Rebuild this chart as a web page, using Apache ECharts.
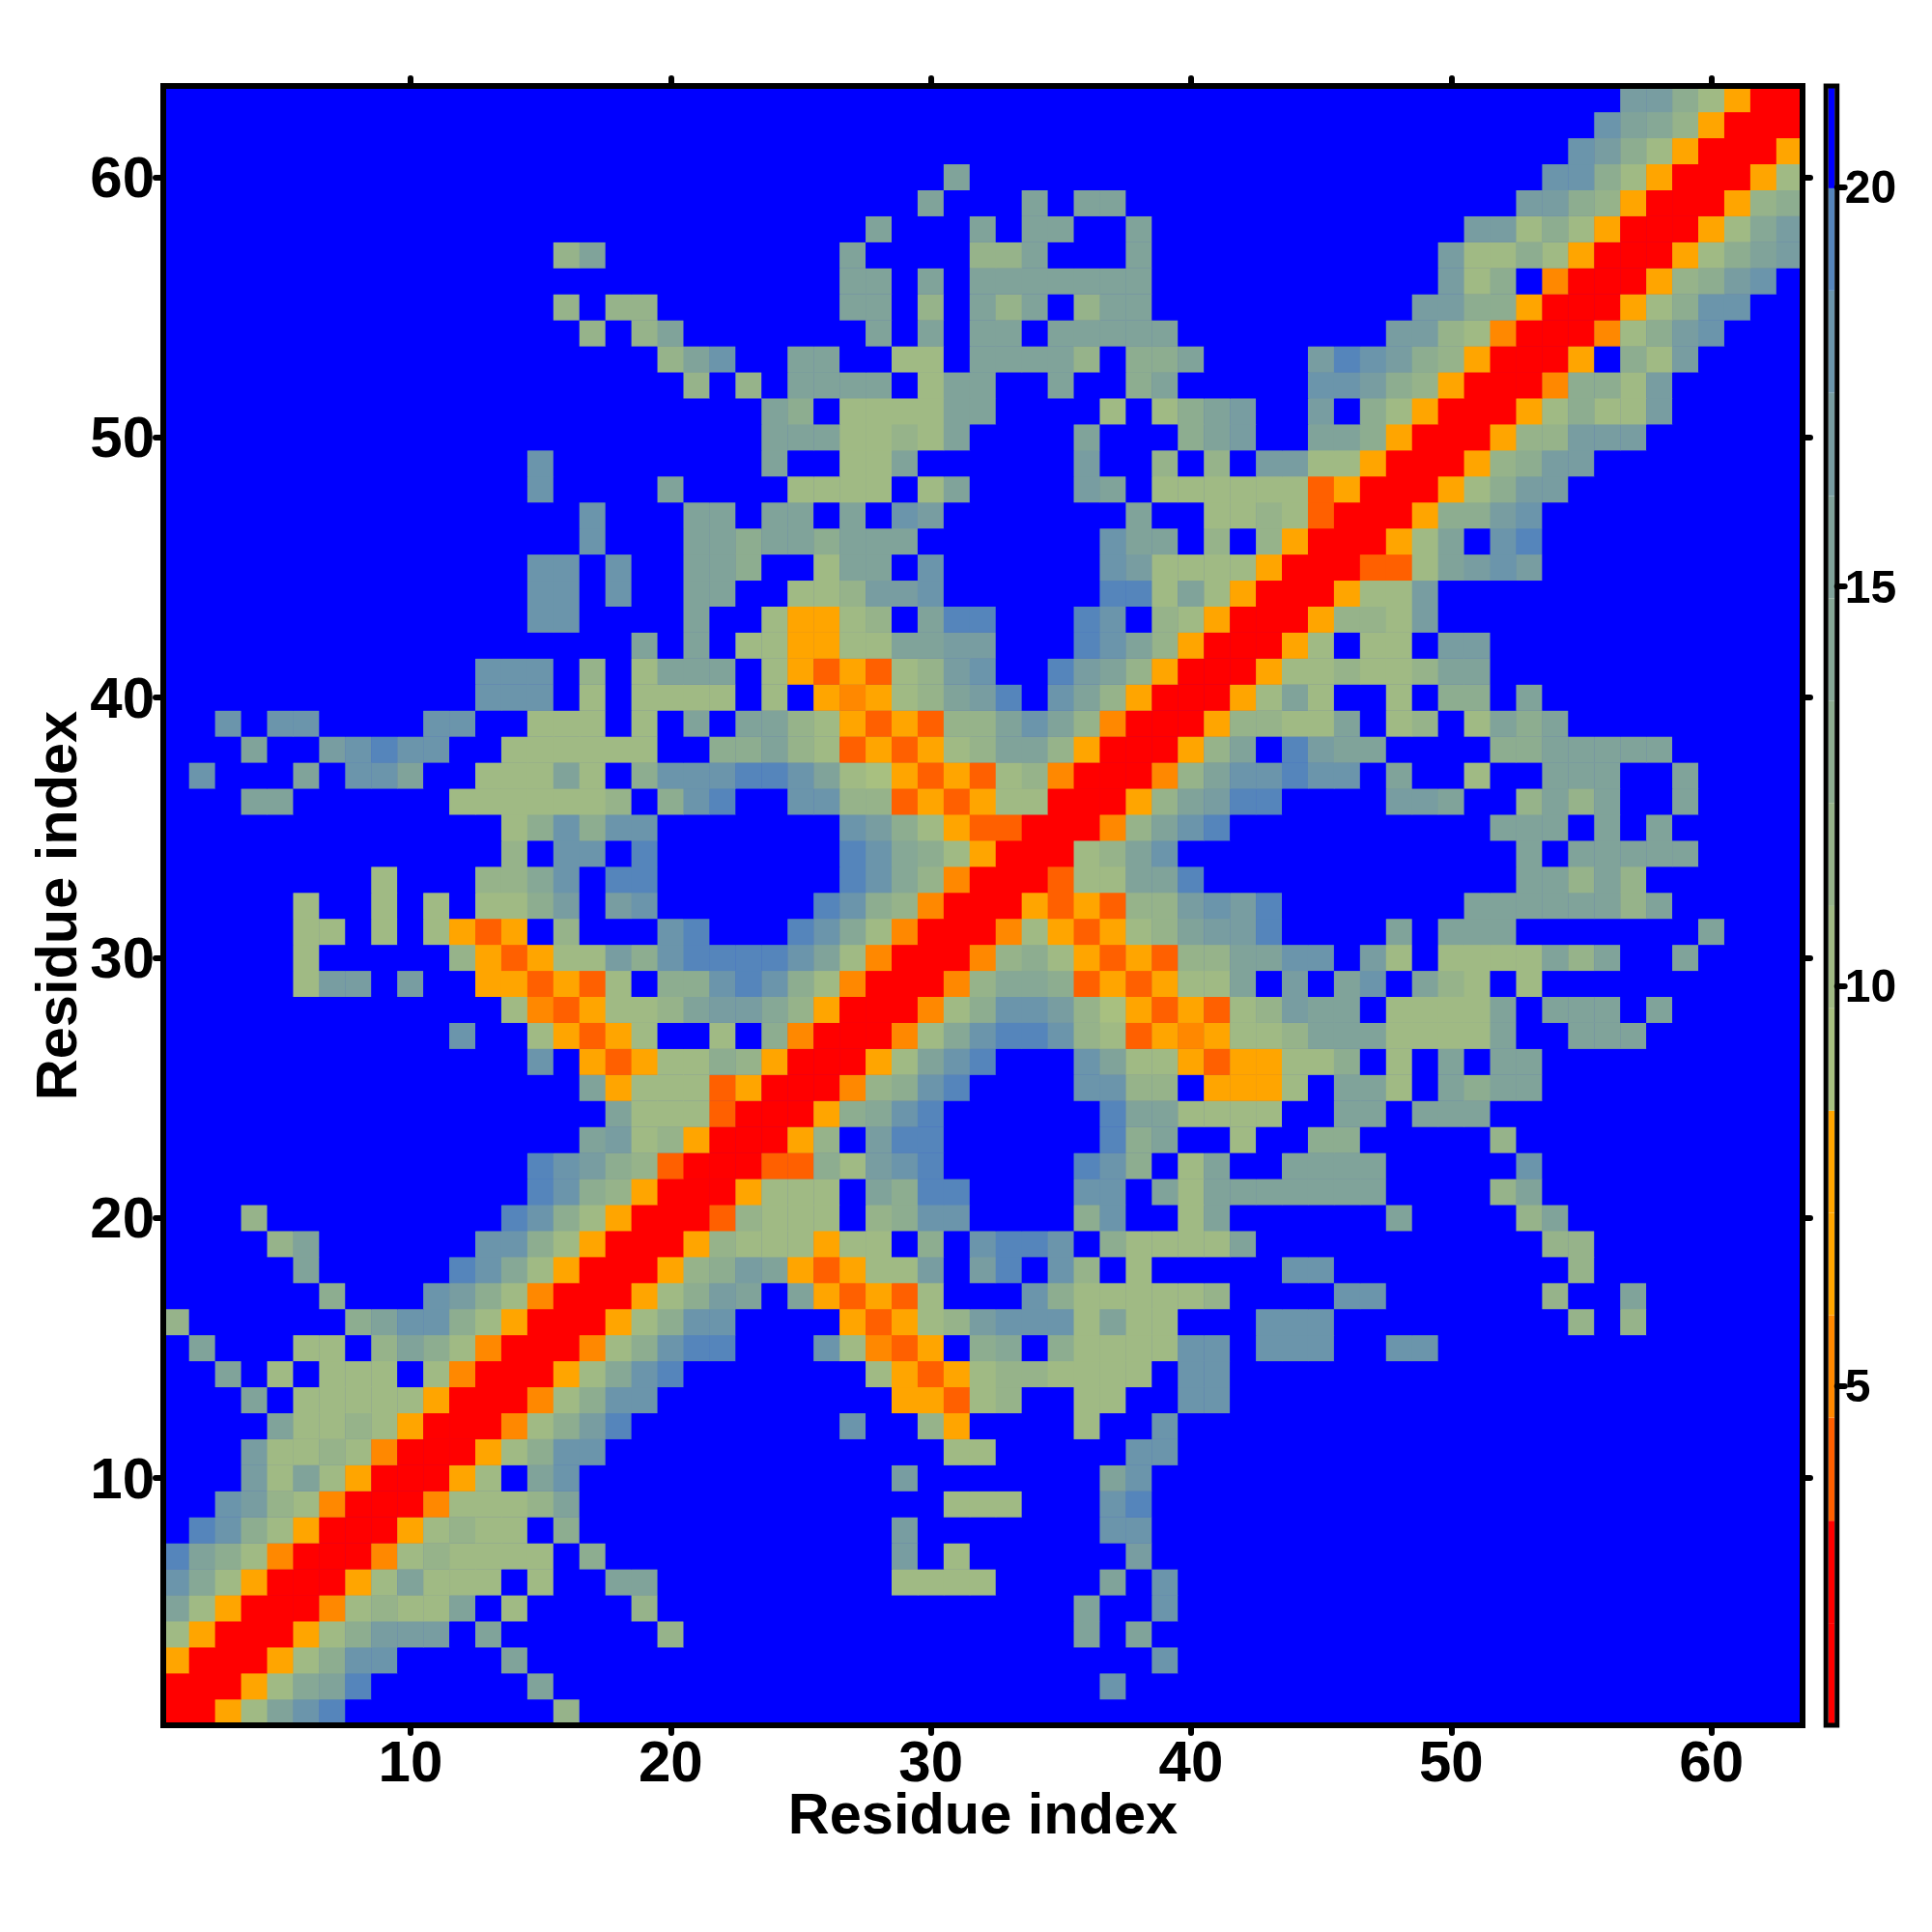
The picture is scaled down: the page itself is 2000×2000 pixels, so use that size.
<!DOCTYPE html>
<html><head><meta charset="utf-8">
<style>html,body{margin:0;padding:0;background:#fff}#c{width:2000px;height:2000px}</style>
<script src="https://cdn.jsdelivr.net/npm/echarts@6/dist/echarts.min.js"></script>
</head><body><div id="c"></div>
<script>
// Residue index categories
const residues = Array.from({length:63},(_,i)=>String(i+1));
const axisTitle = "Residue index";
const colorBarTicks = [5,10,15,20];
// Colour bar: level boundaries and level colours
const levelBreaks = [0.75,2.03,3.31,4.6,5.88,7.16,8.44,9.72,11,12.29,13.57,14.85,16.13,17.42,18.7,19.98,21.26];
const levelColors = ["#ff0000","#ff0000","#ff6000","#ff8800","#ffa500","#ffa500","#a8c080","#a0ba84","#96b38a","#8dad90","#86a896","#80a39a","#789da1","#6b95ab","#5585bb","#0000ff"];
// Distance value read for each colour code; anything not listed is the far (blue) level
const codeValues = {R:2.7,D:3.95,O:5.2,A:6.5,a:9.1,g:10.3,h:11.6,i:12.9,j:14.2,t:15.4,k:16.7,s:18,u:19.3};
const farValue = 20.6;
const diagonalValue = 1.4;
// Matrix is symmetric: for residue y (from 63 down to 2), cells with x<y as "<x or x-x><code>"
const rowsFromTop = [
"57k 58k 59i 60g 61A 62R",
"56s 57t 58j 59h 60A 61R",
"55s 56k 57i 58g 59A 60R",
"31t 54s 55s 56i 57g 58A 59R",
"30t 34t 36t 37t 53k 54k 55i 56h 57A 58R",
"28t 32t 34t 35t 38t 51k 52k 53g 54i 55g 56A 57R",
"16h 17t 27t 32h 33h 34t 38t 50k 51g 52g 53i 54g 55A 56R",
"27t 28t 30t 32-38t 50k 51g 52i 54O 55R",
"16h 18h 19h 27t 28t 30h 32t 33h 34t 36h 37t 38t 49k 50k 51i 52i 53A 54R",
"17h 19h 20t 28t 30t 32t 33t 35-39t 48k 49k 50h 51g 52O 53R",
"20h 21t 22s 25t 26t 29g 30g 32-35t 36h 38i 39i 40t 45k 46u 47s 48k 49i 50h 51A 52R",
"21h 23h 25-28t 30g 31t 32t 35t 38i 39t 45s 46s 47k 48i 49h 50A 51R",
"24t 25i 27-30g 31t 32t 37g 39g 40i 41t 42k 45k 47i 48g 49A 50R",
"24t 25t 26t 27g 28g 29h 30g 31t 36t 40i 41t 42k 45t 46t 47i 48A 49R",
"15s 24t 27g 28g 29t 36k 39h 41h 43k 44k 45g 46g 47A 48R",
"15s 20t 25-28g 30g 31t 36k 37t 39-44g 45D 46A 47R",
"17s 21t 22t 24t 25t 27t 29s 30k 38t 41g 42g 43h 44g 45D 46R",
"17s 21t 22t 23i 24t 25t 26i 27t 28t 29t 37s 38t 39t 41h 43h 44A 45R",
"15s 16s 18s 21t 22t 23i 26g 27t 28t 30s 37s 38k 39-42g 43A 44R",
"15s 16s 18s 21t 22t 25g 26g 27h 28k 29k 30s 37u 38u 39g 40t 41g 42A 43R",
"15s 16s 21t 24g 25A 26A 27g 28h 30t 31u 32u 36u 37s 39h 40g 41A 42R",
"19t 21t 23g 24g 25A 26A 27g 28g 29t 30t 31k 32k 36u 37s 38t 39h 40A 41R",
"13s 14s 15s 17h 19g 20t 21t 22t 24g 25A 26D 27A 28D 29g 30h 31k 32s 35u 36k 37t 38h 39A 40R",
"13s 14s 15s 17g 19g 20-22g 24g 26A 27O 28A 29g 30h 31t 32k 33u 35s 36t 37h 38A 39R",
"3s 5s 6s 11s 12s 15-17g 19g 21t 23t 24t 25h 26g 27A 28D 29A 30D 31h 32h 33t 34s 35t 36h 37O 38R",
"4t 7k 8s 9u 10s 11s 14-19g 22i 23i 24t 25h 26g 27D 28A 29D 30A 31g 32h 33t 34t 35h 36A 37R",
"2s 6t 8s 9s 10t 13g 14g 15g 16t 17g 19i 20s 21s 22s 23u 24u 25s 26t 27g 28a 29A 30D 31A 32D 33g 34h 35O 36R",
"4t 5t 12-17g 18h 20i 21s 22u 25s 26s 27h 28h 29D 30A 31D 32A 33g 34g 35R",
"14g 15i 16s 17i 18s 19s 27s 28k 29i 30g 31A 32D 33D 34R",
"14h 16s 17s 19u 27u 28s 29j 30i 31g 32A 33R",
"9g 13h 14h 15j 16s 18u 19u 27u 28s 29j 30h 31O 32R",
"6g 9g 11g 13g 14g 15i 16k 18k 19s 26u 27s 28i 29h 30O 31R",
"6g 7g 9g 11g 12A 13D 14A 16h 20s 21u 25u 26s 27j 28g 29O 30R",
"6g 12h 13A 14D 15A 16g 17g 18k 19i 20s 21u 22u 23u 24u 25s 26t 27g 28O 29R",
"6g 7k 8k 10k 13A 14A 15D 16A 17D 18g 20i 21i 22s 23u 24s 25i 26g 27O 28R",
"14g 15O 16D 17A 18g 19g 20h 21t 22k 23k 24j 25h 26A 27R",
"12s 15g 16A 17D 18A 19g 22g 24i 25O 26R",
"15s 17A 18D 19A 20g 21g 22i 23h 24A 25R",
"17t 18A 19g 20g 21g 22D 23A 24R",
"18t 19g 20g 21g 22D 23R",
"17t 18k 19g 20h 21A 22R",
"15u 16s 17k 18i 19h 20D 21R",
"15u 16s 17i 18h 19A 20R",
"4h 14u 15s 16i 17g 18A 19R",
"5h 6t 13s 14s 15i 16g 17A 18R",
"6t 12u 13s 14j 15g 16A 17R",
"7i 11s 12k 13i 14g 15O 16R",
"1h 8i 9t 10s 11s 12i 13g 14A 15R",
"2t 6g 7g 9h 10t 11i 12g 13O 14R",
"3t 5g 7g 8g 9g 11g 12O 13R",
"4t 6-10g 11A 12R",
"5t 6g 7g 8h 9g 10A 11R",
"4k 5g 6g 7h 8g 9O 10R",
"4k 5g 6t 7g 8A 9R",
"3s 4k 5h 6g 7O 8R",
"2u 3s 4i 5g 6A 7R",
"1u 2t 3i 4g 5O 6R",
"1s 2j 3g 4A 5R",
"1t 2g 3A 4R",
"1g 2A 3R",
"1A 2R",
"1R"
];

const n = residues.length;
const grid = Array.from({length:n},()=>new Array(n).fill(farValue));
for(let i=0;i<n;i++) grid[i][i]=diagonalValue;
rowsFromTop.forEach((row,k)=>{
  const y = n-1-k;
  row.split(" ").forEach(tok=>{
    const m = tok.match(/^(\d+)(?:-(\d+))?([A-Za-z])$/);
    const a=+m[1], b=m[2]?+m[2]:a;
    for(let x=a;x<=b;x++){ grid[y][x-1]=codeValues[m[3]]; grid[x-1][y]=codeValues[m[3]]; }
  });
});
const cells=[];
for(let y=0;y<n;y++) for(let x=0;x<n;x++) cells.push([x,y,grid[y][x]]);

const FONT='"Liberation Sans"';
const every10=(i,v)=>(+v)%10===0;
const bold=size=>({fontFamily:FONT,fontWeight:'bold',fontSize:size,color:'#000'});
const line={lineStyle:{color:'#000',width:6,cap:'square'}};
const tick={show:true,inside:false,length:8,alignWithLabel:true,interval:every10,lineStyle:{color:'#000',width:6,cap:'round'}};

const chart=echarts.init(document.getElementById('c'),null,{width:2000,height:2000,renderer:'canvas'});
chart.setOption({
  animation:false,
  backgroundColor:'#fff',
  grid:[
    {left:169,top:89,width:1697,height:1697,containLabel:false,outerBoundsMode:'none',show:true,backgroundColor:'#0000ff',borderWidth:0},
    {left:1890.2,top:89,width:11.5,height:1697,containLabel:false,outerBoundsMode:'none',show:true,z:6,backgroundColor:'transparent',borderColor:'#000',borderWidth:5}
  ],
  xAxis:[
    {type:'category',gridIndex:0,data:residues,position:'bottom',z:5,name:axisTitle,nameLocation:'middle',nameGap:66,nameMoveOverlap:false,nameTextStyle:bold(59.5),
     axisLine:line,axisTick:tick,axisLabel:{...bold(60),interval:every10,margin:11,hideOverlap:false},splitLine:{show:false},splitArea:{show:false}},
    {type:'category',gridIndex:0,data:residues,position:'top',z:5,axisLine:line,axisTick:tick,axisLabel:{show:false},splitLine:{show:false}},
    {type:'category',gridIndex:1,data:['level'],axisLine:{show:false},axisTick:{show:false},axisLabel:{show:false},splitLine:{show:false}}
  ],
  yAxis:[
    {type:'category',gridIndex:0,data:residues,position:'left',z:5,name:axisTitle,nameLocation:'middle',nameGap:76,nameMoveOverlap:false,nameRotate:90,nameTextStyle:bold(59.5),
     axisLine:line,axisTick:tick,axisLabel:{...bold(60),interval:every10,margin:9,verticalAlign:'top',lineHeight:8,hideOverlap:false},splitLine:{show:false},splitArea:{show:false}},
    {type:'category',gridIndex:0,data:residues,position:'right',z:5,axisLine:line,axisTick:tick,axisLabel:{show:false},splitLine:{show:false}},
    {type:'value',gridIndex:1,position:'right',min:levelBreaks[0],max:levelBreaks[levelBreaks.length-1],z:7,
     axisLine:{show:false},splitLine:{show:false},
     axisTick:{show:true,length:8,lineStyle:{color:'#000',width:6,cap:'round'},customValues:colorBarTicks},
     axisLabel:{...bold(48),margin:8,verticalAlign:'top',lineHeight:7,customValues:colorBarTicks}}
  ],
  visualMap:{show:false,type:'piecewise',seriesIndex:0,dimension:2,
    pieces:levelColors.map((c,i)=>({gte:levelBreaks[i],lt:levelBreaks[i+1],color:c}))},
  series:[
    {type:'heatmap',xAxisIndex:0,yAxisIndex:0,data:cells,progressive:0,animation:false,emphasis:{disabled:true},itemStyle:{borderWidth:0}},
    ...levelColors.map((c,i)=>({type:'bar',xAxisIndex:2,yAxisIndex:2,stack:'levels',barWidth:6.5,silent:true,
      data:[i===0?levelBreaks[1]:levelBreaks[i+1]-levelBreaks[i]],itemStyle:{color:c}}))
  ]
});
</script></body></html>
